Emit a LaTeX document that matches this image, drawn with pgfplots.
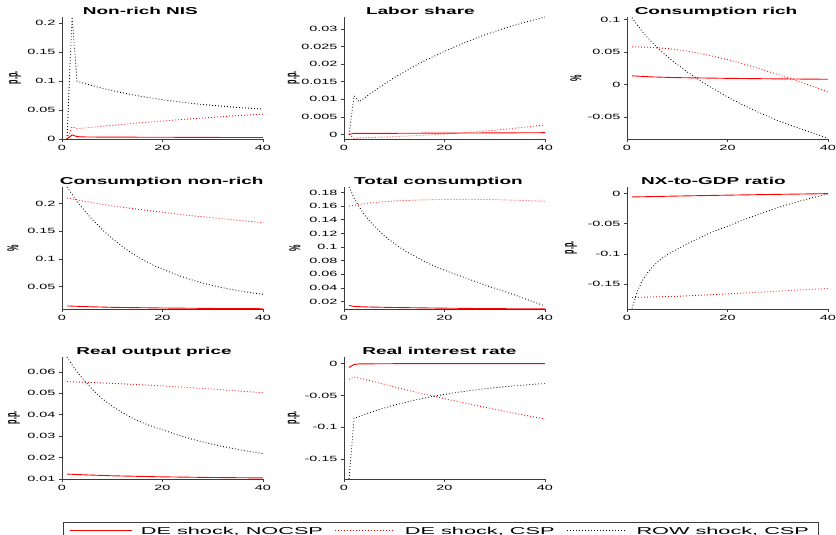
\documentclass[border=0pt]{standalone}
\usepackage{fontspec}
\usepackage{pgfplots}
\pgfplotsset{compat=1.18}
\newfontfamily\tickfont[FakeStretch=1.9]{Liberation Sans}
\newfontfamily\titlefont[FakeStretch=1.9]{Liberation Sans}
\newfontfamily\legfont[FakeStretch=2.17]{Liberation Sans}
\newfontfamily\ylabfont[FakeStretch=0.45]{Liberation Sans}
\definecolor{mred}{RGB}{255,0,0}
\definecolor{axc}{RGB}{60,60,60}
\newcommand{\solidsample}[1]{\textcolor{#1}{\rule[-0.45pt]{62pt}{0.9pt}}}
\newcommand{\dotsample}[1]{\textcolor{#1}{\leaders\hbox to 3pt{\hss\rule[-0.45pt]{0.9pt}{0.9pt}\hss}\hskip62pt}}
\pgfplotsset{
 every axis title shift=0pt,
 panel/.style={
  scale only axis, width=201pt, height=122pt,
  axis x line*=bottom, axis y line*=left,
  axis line style={draw=axc, line width=0.9pt},
  tick align=outside, major tick length=3pt,
  tick style={draw=axc, line width=0.8pt},
  xmin=0, xmax=40, xtick={0,20,40}, xticklabels={0,20,40},
  ticklabel style={font={\tickfont\fontsize{7.6}{8.5}\selectfont}},
  title style={font={\titlefont\bfseries\fontsize{10}{12}\selectfont}, anchor=base, yshift=2pt},
  ylabel style={font={\ylabfont\bfseries\fontsize{16}{17}\selectfont}, anchor=center},
  scaled y ticks=false,
 },
 tx/.style={title style={at={(axis description cs:#1,1)}}},
 yl/.style={ylabel style={at={(axis description cs:#1,0.5)}}},
 nocsp/.style={color=mred, draw=mred, line width=0.9pt, solid,
   legend image code/.code={\node[inner sep=0pt, anchor=west] at (0pt,0pt) {\solidsample{mred}};}},
 decsp/.style={color=mred, draw=mred, line width=0.9pt, dash pattern=on 0.8pt off 2.2pt,
   legend image code/.code={\node[inner sep=0pt, anchor=west] at (0pt,0pt) {\dotsample{mred}};}},
 rowcsp/.style={color=black, draw=black, line width=0.9pt, dash pattern=on 0.8pt off 2.2pt,
   legend image code/.code={\node[inner sep=0pt, anchor=west] at (0pt,0pt) {\dotsample{black}};}},
}
\begin{document}
\begin{tikzpicture}
% ---------- Row 1 ----------
\begin{axis}[panel, at={(62pt,396pt)}, anchor=south west,
  title={Non-rich NIS}, tx=0.39, ylabel={p.p.}, yl=-0.234,
  ymin=0, ymax=0.211, ytick={0,0.05,0.1,0.15,0.2}, yticklabels={0,0.05,0.1,0.15,0.2}]
\addplot[nocsp] coordinates {(1,0)(2,0.007)(3,0.0042)(4,0.0036)(6,0.0034)(10,0.0032)(20,0.003)(30,0.0027)(40,0.0025)};
\addplot[decsp] coordinates {(1,0)(2,0.021)(3,0.018)(5,0.0195)(10,0.0235)(15,0.0275)(20,0.031)(25,0.0345)(30,0.0375)(35,0.0405)(40,0.043)};
\addplot[rowcsp] coordinates {(1,0)(2,0.211)(3,0.100)(4,0.0974)(5,0.0948)(6,0.0924)(8,0.0878)(10,0.0836)(12,0.0800)(14,0.0765)(16,0.0734)(18,0.0706)(20,0.0680)(22,0.0656)(24,0.0635)(26,0.0615)(28,0.0597)(30,0.0580)(33,0.0559)(36,0.0540)(40,0.0518)};
\end{axis}
\begin{axis}[panel, at={(344pt,396pt)}, anchor=south west,
  title={Labor share}, tx=0.38, ylabel={p.p.}, yl=-0.25,
  ymin=-0.0013, ymax=0.0335, ytick={0,0.005,0.01,0.015,0.02,0.025,0.03}, yticklabels={0,0.005,0.01,0.015,0.02,0.025,0.03}]
\addplot[nocsp] coordinates {(1,0)(2,0.0003)(10,0.00032)(20,0.00038)(30,0.00044)(40,0.0005)};
\addplot[decsp] coordinates {(1,0)(2,-0.0011)(3,-0.0010)(5,-0.0009)(10,-0.0006)(15,-0.0003)(20,0.0001)(25,0.0006)(30,0.0012)(35,0.0019)(40,0.0027)};
\addplot[rowcsp] coordinates {(1,0)(2,0.011)(3,0.0093)(5,0.0114)(7,0.0134)(10,0.0162)(13,0.0187)(16,0.0210)(20,0.0237)(24,0.0262)(28,0.0284)(32,0.0303)(36,0.0320)(40,0.0335)};
\end{axis}
\begin{axis}[panel, at={(627pt,396pt)}, anchor=south west,
  title={Consumption rich}, tx=0.443, ylabel={\%}, yl=-0.254,
  ymin=-0.0837, ymax=0.104, ytick={-0.05,0,0.05,0.1}, yticklabels={-0.05,0,0.05,0.1}]
\addplot[nocsp] coordinates {(1,0.0135)(5,0.0118)(10,0.0107)(20,0.0096)(30,0.0088)(40,0.0082)};
\addplot[decsp] coordinates {(1,0.058)(4,0.0575)(8,0.0555)(12,0.0515)(16,0.0455)(20,0.0385)(24,0.030)(28,0.0205)(32,0.0105)(36,0.000)(40,-0.0115)};
\addplot[rowcsp] coordinates {(1,0.103)(2,0.092)(3,0.082)(4,0.073)(5,0.065)(6,0.057)(7,0.050)(8,0.043)(10,0.031)(12,0.0195)(14,0.009)(16,-0.001)(18,-0.010)(20,-0.019)(23,-0.031)(26,-0.042)(30,-0.0555)(33,-0.064)(36,-0.072)(40,-0.0826)};
\end{axis}
% ---------- Row 2 ----------
\begin{axis}[panel, at={(62pt,226pt)}, anchor=south west,
  title={Consumption non-rich}, tx=0.496, ylabel={\%}, yl=-0.244,
  ymin=0.010, ymax=0.23, ytick={0.05,0.1,0.15,0.2}, yticklabels={0.05,0.1,0.15,0.2}]
\addplot[nocsp] coordinates {(1,0.0155)(5,0.0142)(10,0.013)(20,0.0118)(30,0.011)(40,0.0105)};
\addplot[decsp] coordinates {(1,0.210)(5,0.2035)(10,0.196)(15,0.190)(20,0.1845)(25,0.179)(30,0.1745)(35,0.170)(40,0.1655)};
\addplot[rowcsp] coordinates {(1,0.230)(2,0.2168)(3,0.2044)(4,0.1928)(5,0.1819)(6,0.1717)(8,0.1532)(10,0.1370)(12,0.1227)(14,0.1102)(16,0.0992)(18,0.0896)(20,0.0820)(23,0.0710)(26,0.0620)(29,0.0545)(32,0.0482)(35,0.0431)(38,0.0389)(40,0.0367)};
\end{axis}
\begin{axis}[panel, at={(344pt,226pt)}, anchor=south west,
  title={Total consumption}, tx=0.47, ylabel={\%}, yl=-0.244,
  ymin=0.0093, ymax=0.188, ytick={0.02,0.04,0.06,0.08,0.1,0.12,0.14,0.16,0.18}, yticklabels={0.02,0.04,0.06,0.08,0.1,0.12,0.14,0.16,0.18}]
\addplot[nocsp] coordinates {(1,0.0145)(2,0.013)(5,0.0122)(10,0.0115)(20,0.0105)(30,0.0098)(40,0.0095)};
\addplot[decsp] coordinates {(1,0.160)(5,0.1645)(10,0.1675)(15,0.169)(20,0.1698)(25,0.170)(30,0.1695)(35,0.1685)(40,0.167)};
\addplot[rowcsp] coordinates {(1,0.188)(2,0.172)(3,0.159)(4,0.148)(5,0.139)(6,0.131)(8,0.117)(10,0.105)(12,0.095)(14,0.087)(16,0.079)(18,0.072)(20,0.066)(23,0.058)(26,0.050)(29,0.042)(32,0.035)(35,0.027)(38,0.019)(40,0.0137)};
\end{axis}
\begin{axis}[panel, at={(627pt,226pt)}, anchor=south west,
  title={NX-to-GDP ratio}, tx=0.43, ylabel={p.p.}, yl=-0.279,
  ymin=-0.191, ymax=0.011, ytick={-0.15,-0.1,-0.05,0}, yticklabels={-0.15,-0.1,-0.05,0}]
\addplot[nocsp] coordinates {(1,-0.0055)(10,-0.004)(20,-0.0025)(30,-0.0012)(40,0.0)};
\addplot[decsp] coordinates {(1,-0.172)(10,-0.170)(20,-0.166)(30,-0.1615)(40,-0.157)};
\addplot[rowcsp] coordinates {(1,-0.190)(2,-0.163)(3,-0.145)(4,-0.132)(5,-0.122)(6,-0.114)(7,-0.107)(8,-0.101)(10,-0.092)(12,-0.083)(14,-0.075)(16,-0.067)(18,-0.060)(20,-0.054)(23,-0.044)(26,-0.035)(29,-0.026)(32,-0.018)(35,-0.011)(38,-0.0045)(40,-0.0005)};
\end{axis}
% ---------- Row 3 ----------
\begin{axis}[panel, at={(62pt,56pt)}, anchor=south west,
  title={Real output price}, tx=0.458, ylabel={p.p.}, yl=-0.239,
  ymin=0.01, ymax=0.067, ytick={0.01,0.02,0.03,0.04,0.05,0.06}, yticklabels={0.01,0.02,0.03,0.04,0.05,0.06},
  legend style={at={(axis description cs:0.0025,-0.35)}, anchor=north west, draw=axc, line width=0.8pt,
    font={\legfont\fontsize{10}{12}\selectfont}, inner xsep=7pt, inner ysep=3pt,
    /tikz/every odd column/.append style={column sep=7pt},
    /tikz/every even column/.append style={column sep=9pt}},
  legend columns=3]
\addplot[nocsp] coordinates {(1,0.0123)(5,0.0119)(10,0.0115)(20,0.011)(30,0.0107)(40,0.0105)};
\addlegendentry{DE shock, NOCSP}
\addplot[decsp] coordinates {(1,0.0555)(10,0.0547)(20,0.0535)(30,0.052)(40,0.0503)};
\addlegendentry{DE shock, CSP}
\addplot[rowcsp] coordinates {(1,0.067)(2,0.0634)(3,0.0601)(4,0.0572)(5,0.0545)(6,0.0520)(7,0.0497)(8,0.0475)(10,0.0440)(12,0.0410)(14,0.0385)(16,0.0363)(18,0.0345)(20,0.0330)(23,0.0306)(26,0.0285)(29,0.0267)(32,0.0252)(35,0.0238)(38,0.0226)(40,0.0219)};
\addlegendentry{ROW shock, CSP}
\end{axis}
\begin{axis}[panel, at={(344pt,56pt)}, anchor=south west,
  title={Real interest rate}, tx=0.475, ylabel={p.p.}, yl=-0.25,
  ymin=-0.181, ymax=0.0103, ytick={-0.15,-0.1,-0.05,0}, yticklabels={-0.15,-0.1,-0.05,0}]
\addplot[nocsp] coordinates {(1,-0.006)(2,-0.0015)(3,-0.0005)(10,-0.0002)(40,0)};
\addplot[decsp] coordinates {(1,-0.0246)(2,-0.021)(3,-0.0225)(4,-0.0245)(6,-0.0285)(8,-0.0325)(10,-0.0365)(12,-0.0405)(14,-0.0443)(16,-0.048)(18,-0.0515)(20,-0.055)(24,-0.0618)(28,-0.0685)(32,-0.0748)(36,-0.081)(40,-0.087)};
\addplot[rowcsp] coordinates {(1,-0.181)(2,-0.0860)(3,-0.0830)(4,-0.0800)(5,-0.0773)(6,-0.0746)(8,-0.0697)(10,-0.0652)(12,-0.0612)(14,-0.0575)(16,-0.0541)(18,-0.0511)(20,-0.0483)(22,-0.0458)(25,-0.0424)(28,-0.0395)(31,-0.0370)(34,-0.0348)(37,-0.0329)(40,-0.0313)};
\end{axis}
\pgfresetboundingbox
\path[use as bounding box] (0pt,0pt) rectangle (836pt,535pt);
\end{tikzpicture}
\end{document}
